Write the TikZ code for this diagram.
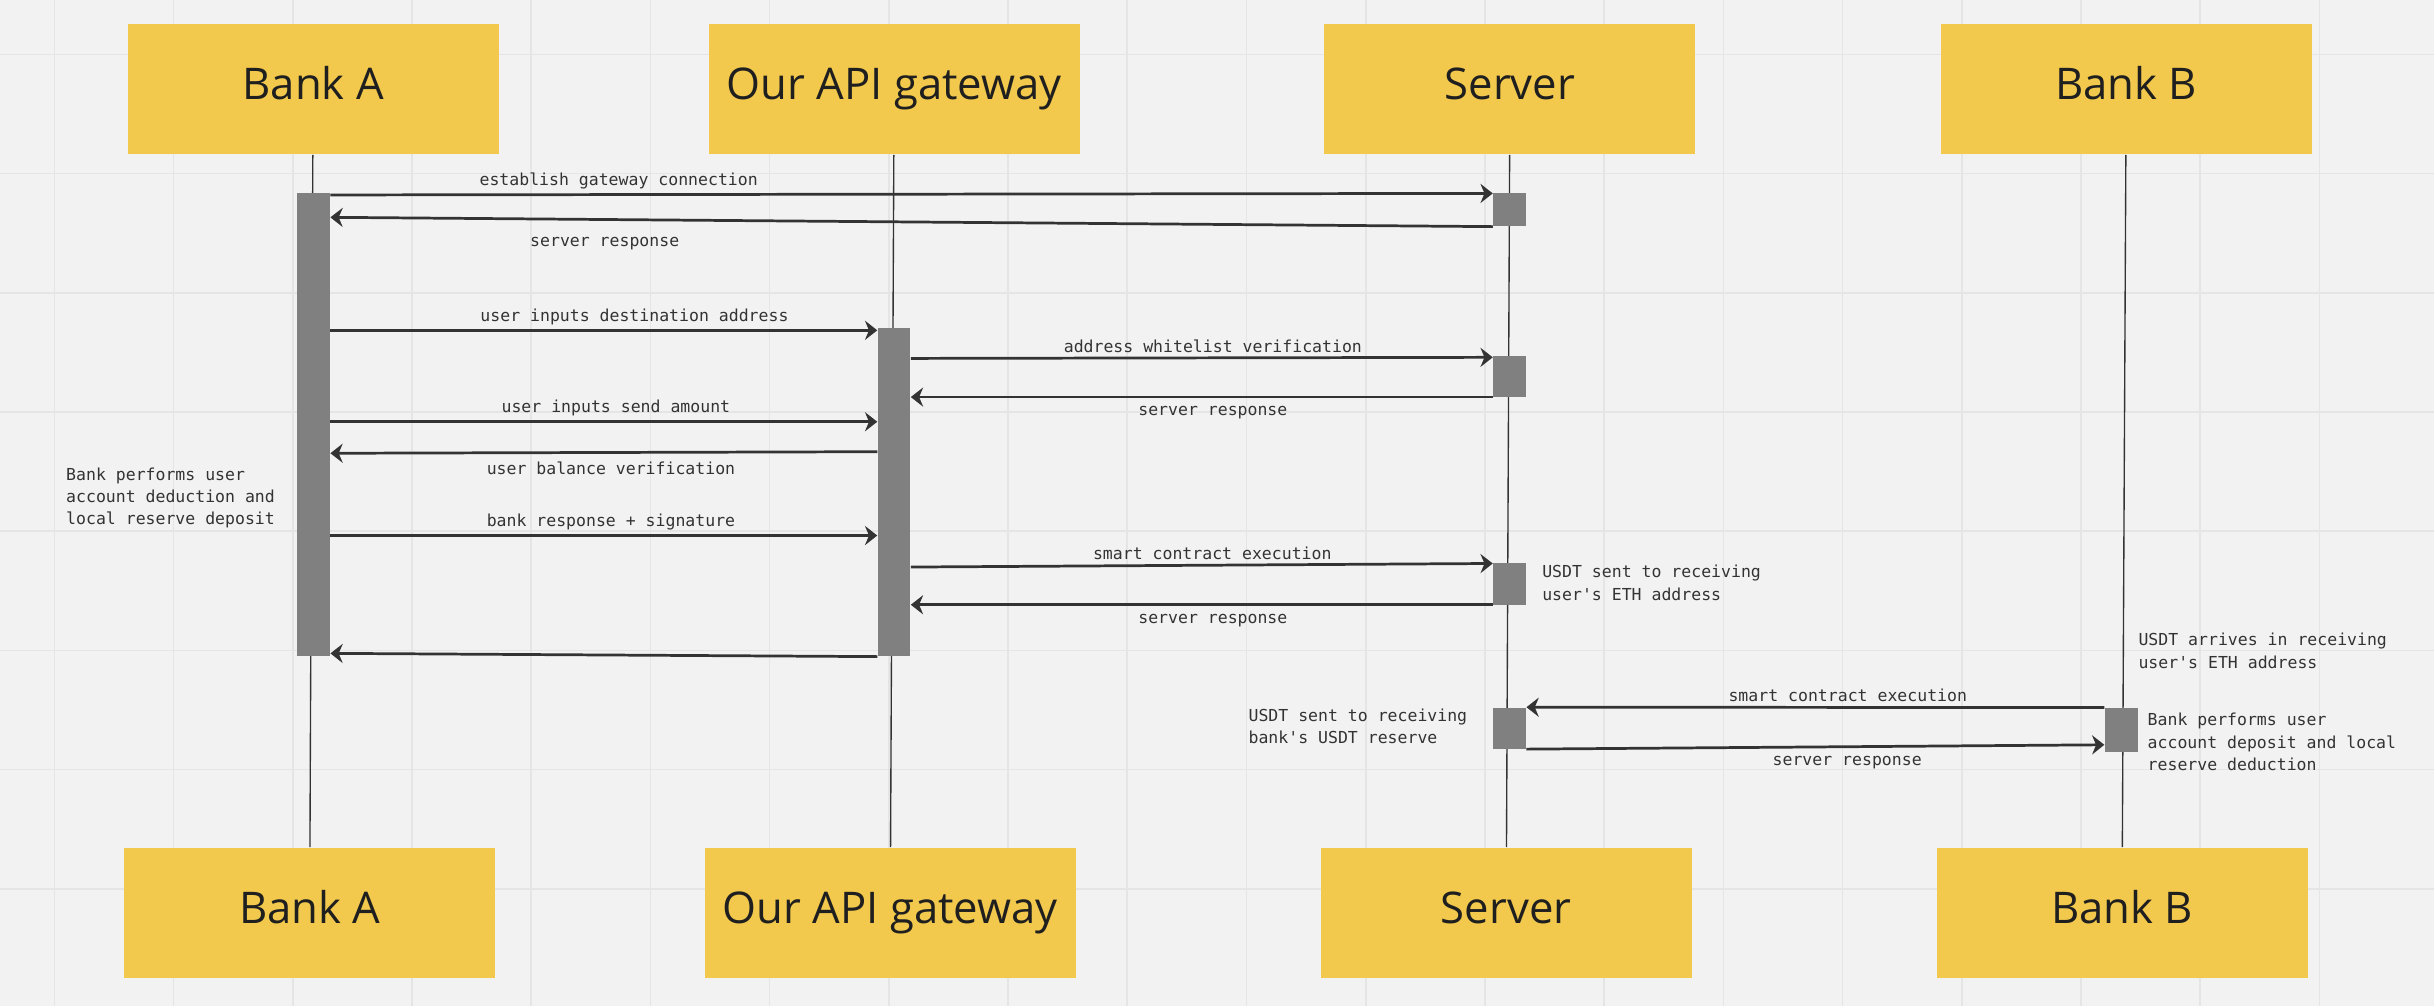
\documentclass[tikz,border=0pt]{standalone}
\usepackage{fontspec}
\setmainfont{Open Sans}
\setmonofont{DejaVu Sans Mono}
\usetikzlibrary{fit,arrows.meta}
\definecolor{boxyellow}{HTML}{F2C94C}
\definecolor{paper}{HTML}{F2F2F2}
\definecolor{gridgray}{HTML}{E5E5E5}
\definecolor{ink}{HTML}{333333}
\definecolor{bargray}{HTML}{808080}
\tikzset{
    x=0.2mm, y=-0.2mm, % one unit per pixel of the board, y going down
    actor/.style={fill=boxyellow, inner sep=0pt,
        minimum width=47.8mm, minimum height=16.8mm,
        font=\fontsize{16}{19}\selectfont, text=black!88,
        text height=11.4pt, text depth=3.8pt},
    actbar/.style={fill=bargray, draw=none, inner sep=0pt},
    lifeline/.style={draw=ink, line width=0.5pt},
    msg/.style={draw=ink, line width=1pt, -{Stealth[length=4.5pt,width=7pt]}},
    lbl/.style={font=\ttfamily\fontsize{6.05}{8.2}\selectfont, text=ink, inner sep=1.5pt},
    lblup/.style={lbl, above},
    lbldown/.style={lbl, below, yshift=-1.5pt},
    note/.style={lbl, align=left, anchor=west, inner sep=0pt},
}

\begin{document}
\begin{tikzpicture}
  % board
  \useasboundingbox (0,0) rectangle (1568,648);
  \fill[paper] (0,0) rectangle (1568,648);
  \draw[gridgray, line width=0.6pt, step=15.36mm, shift={(35,35)}] (-35,613) grid (1533,-35);

  % participants
  \node[actor] (A_top) at (201.7,57.5) {Bank A};
  \node[actor] (G_top) at (576,57.5)   {Our API gateway};
  \node[actor] (S_top) at (972.7,57.5) {Server};
  \node[actor] (B_top) at (1369.7,57.5){Bank B};

  \node[actor] (A_bot) at (199.5,588)  {Bank A};
  \node[actor] (G_bot) at (573.5,588)  {Our API gateway};
  \node[actor] (S_bot) at (970.3,588)  {Server};
  \node[actor] (B_bot) at (1367,588)   {Bank B};

  \draw[lifeline] (A_top) -- (A_bot);
  \draw[lifeline] (G_top) -- (G_bot);
  \draw[lifeline] (S_top) -- (S_bot);
  \draw[lifeline] (B_top) -- (B_bot);

  % activations
  \node[actbar, fit={(191.5,124.6) (212.5,422.5)}] (act_A)  {};
  \node[actbar, fit={(565.5,211) (586.4,422.5)}]   (act_G)  {};
  \node[actbar, fit={(962,124.6) (983,145.8)}]     (act_S1) {};
  \node[actbar, fit={(962,229.2) (983,255.8)}]     (act_S2) {};
  \node[actbar, fit={(962,363) (983,389.6)}]       (act_S3) {};
  \node[actbar, fit={(962,455.8) (983,482.3)}]     (act_S4) {};
  \node[actbar, fit={(1356,455.8) (1377.4,484.6)}] (act_B)  {};

  % messages
  \path[every edge/.style=msg]
    (act_A.east |- 0,125.6) edge node[lblup, pos=.248] {establish gateway connection} (act_S1.west |- 0,124.6)
    (act_S1.west |- 0,146)  edge node[lbldown, pos=.764, yshift=-3pt] {server response} (act_A.east |- 0,140)
    (act_A.east |- 0,212.8) edge node[lblup, pos=.556] {user inputs destination address} (act_G.west |- 0,212.8)
    (act_G.east |- 0,230.9) edge node[lblup, pos=.519] {address whitelist verification} (act_S2.west |- 0,230.2)
    (act_S2.west |- 0,255.8) edge node[lbldown, pos=.481] {server response} (act_G.east |- 0,255.8)
    (act_A.east |- 0,271.7) edge node[lblup, pos=.522] {user inputs send amount} (act_G.west |- 0,271.7)
    (act_G.west |- 0,291)   edge node[lbldown, pos=.487] {user balance verification} (act_A.east |- 0,292)
    (act_A.east |- 0,345)   edge node[lblup, pos=.513] {bank response + signature} (act_G.west |- 0,345)
    (act_G.east |- 0,365.3) edge node[lblup, pos=.518] {smart contract execution} (act_S3.west |- 0,363)
    (act_S3.west |- 0,389.6) edge node[lbldown, pos=.481] {server response} (act_G.east |- 0,389.6)
    (act_G.west |- 0,423)   edge (act_A.east |- 0,420.9)
    (act_B.west |- 0,455.8) edge node[lblup, pos=.444] {smart contract execution} (act_S4.east |- 0,455.6)
    (act_S4.east |- 0,482.6) edge node[lbldown, pos=.555] {server response} (act_B.west |- 0,479.8);

  % notes
  \node[note] (n_A)  at (42.3,320.8)   {Bank performs user\\account deduction and\\local reserve deposit};
  \node[note] (n_S3) at (993.2,375.4)  {USDT sent to receiving\\user's ETH address};
  \node[note] (n_B1) at (1377.3,419.3) {USDT arrives in receiving\\user's ETH address};
  \node[note] (n_S4) at (804,468)      {USDT sent to receiving\\bank's USDT reserve};
  \node[note] (n_B2) at (1383.2,478)   {Bank performs user\\account deposit and local\\reserve deduction};
\end{tikzpicture}
\end{document}
